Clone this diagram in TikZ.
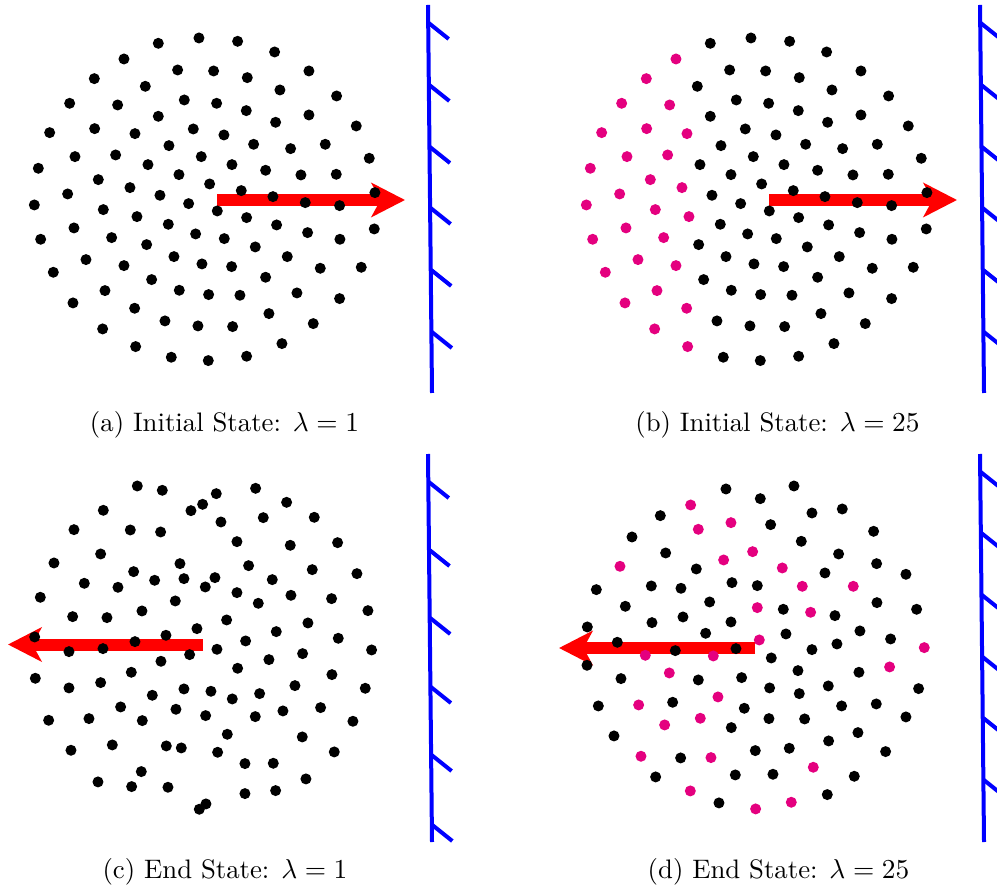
\documentclass[tikz,border=0pt]{standalone}
\usetikzlibrary{arrows.meta}
\definecolor{tracerpink}{HTML}{E4007F}
\tikzset{>=Stealth,
  every node/.style={font=\fontsize{10.7}{13}\selectfont},
  particle/.style={fill=black},
  tracer/.style={fill=tracerpink},
  push/.style={draw=red,line width=4.8pt,line cap=butt,
    -{Stealth[length=13.4pt,width=13.6pt,inset=3.6pt]}},
  wall/.style={draw=blue,line width=1.6pt},
  caption/.style={anchor=base,inner sep=0pt}}
% dot positions, 1/3 pixel units
\newcommand\initleft{372/177,283/236,209/310,353/315,149/398,284/386,405/401,
  225/470,347/465,115/505,295/539,390/563,203/582,103/615,310/629,411/650,
  222/684,122/718,335/713,258/779,372/797,160/817,315/872,219/909,404/925,
  308/987,407/1040}
\newcommand\initright{597/114,475/130,713/124,824/156,927/213,533/210,641/213,
  742/233,436/259,840/270,1010/288,553/300,650/310,739/332,475/349,927/345,
  827/367,1069/378,580/387,672/405,761/433,507/437,872/446,976/433,1108/475,
  444/494,604/470,696/494,797/511,903/525,1009/523,537/524,629/552,724/572,
  480/586,566/611,819/590,916/608,1019/617,1125/578,652/633,740/653,830/675,
  923/698,1020/718,1123/687,505/673,587/702,673/716,440/734,766/741,522/770,
  606/792,695/800,862/770,961/805,1084/802,455/839,797/832,538/871,626/884,
  720/886,891/879,1019/896,807/941,495/963,594/978,698/980,940/971,846/1031,
  514/1072,625/1082,740/1069}
\newcommand\finone{412/108,487/121,649/131,767/115,608/163,573/182,860/157,
  310/181,663/216,790/203,943/202,222/239,391/240,482/246,711/275,871/286,
  1013/278,302/312,540/341,746/347,937/359,1071/371,162/339,401/365,464/391,
  552/386,645/383,616/411,817/389,253/400,354/412,711/428,873/436,995/446,
  121/442,526/453,775/460,1104/482,218/500,321/503,426/483,680/510,924/519,
  591/536,829/545,104/561,498/556,405/575,737/573,1015/565,207/605,309/596,
  483/634,569/614,651/598,908/611,1115/600,807/629,713/655,394/667,996/674,
  106/685,207/714,302/698,457/736,552/717,633/724,697/747,779/731,885/707,
  1096/715,362/771,528/778,617/797,766/800,849/783,962/773,1059/814,146/811,
  267/806,427/812,682/853,907/861,213/901,337/885,499/888,544/894,653/907,
  1003/906,735/941,820/940,424/965,294/996,395/1010,504/1012,918/987,735/1031,
  827/1022,618/1062,598/1078}
\newcommand\finblack{528/117,732/108,631/146,331/197,786/189,877/177,246/261,
  662/224,971/244,754/274,347/309,866/312,439/357,980/341,825/369,1068/373,
  139/419,304/408,393/415,546/398,622/407,226/469,479/456,700/478,855/497,
  981/458,1100/478,112/531,306/518,399/501,543/516,467/550,708/552,930/543,
  1022/567,202/577,376/602,558/596,664/624,786/599,861/582,111/646,213/686,
  445/690,575/683,744/662,927/667,659/714,748/731,835/708,1106/716,145/768,
  368/757,583/775,657/806,764/807,875/768,979/762,1068/801,192/858,544/833,
  836/873,924/848,616/902,718/895,1007/905,392/924,317/981,556/975,669/973,
  913/979,507/1059,832/1034}
\newcommand\finpink{422/165,445/238,543/218,210/349,521/330,608/305,697/354,
  757/409,910/409,622/473,782/487,628/570,1123/593,286/616,490/618,1019/651,
  358/669,504/741,266/765,451/805,344/825,273/919,483/923,790/952,421/1023,
  617/1077,724/1057}
\newcommand\dotr{2.2pt}

\begin{document}
\begin{tikzpicture}[x=.4pt,y=-.4pt]
\useasboundingbox (0,0) rectangle (997,890);
\clip (0,0) rectangle (997,890);
% walls
\foreach \wx/\wy/\hlist in {0/0/{23,85,147,208,270,332},552/0/{23,85,147,208,270,332},
  0/449/{33,101,169,238,306,376},552/449/{23,84,146,208,269,331}}{
  \begin{scope}[shift={(\wx,\wy)}]
  \draw[wall] (428,5) coordinate (wtop) -- (432,393) coordinate (wbot);
  \foreach \h in \hlist {\draw[wall] ({428.5+4*(\h-5)/388},\h) -- ++(20,16);}
  \end{scope}}
% pushes
\coordinate (tailA) at (217,200);\coordinate (tipA) at (405,200);
\coordinate (tailB) at (769,200);\coordinate (tipB) at (957,200);
\coordinate (tailC) at (203,644.5);\coordinate (tipC) at (8,644.5);
\coordinate (tailD) at (755,648);\coordinate (tipD) at (559,648);
\draw[push] (tailA) -- (tipA);
\draw[push] (tailB) -- (tipB);
\draw[push] (tailC) -- (tipC);
\draw[push] (tailD) -- (tipD);
% (a) initial state, lambda=1
\begin{scope}[x=.1333pt,y=-.1333pt]
\foreach \px/\py in \initleft {\fill[particle] (\px,\py) circle[radius=\dotr];}
\foreach \px/\py in \initright {\fill[particle] (\px,\py) circle[radius=\dotr];}
\end{scope}
% (b) initial state, lambda=25
\begin{scope}[shift={(552,0)},x=.1333pt,y=-.1333pt]
\foreach \px/\py in \initleft {\fill[tracer] (\px,\py) circle[radius=\dotr];}
\foreach \px/\py in \initright {\fill[particle] (\px,\py) circle[radius=\dotr];}
\end{scope}
% (c) end state, lambda=1
\begin{scope}[shift={(0,450)},x=.1333pt,y=-.1333pt]
\foreach \px/\py in \finone {\fill[particle] (\px,\py) circle[radius=\dotr];}
\end{scope}
% (d) end state, lambda=25
\begin{scope}[shift={(550,450)},x=.1333pt,y=-.1333pt]
\foreach \px/\py in \finblack {\fill[particle] (\px,\py) circle[radius=\dotr];}
\foreach \px/\py in \finpink {\fill[tracer] (\px,\py) circle[radius=\dotr];}
\end{scope}
% captions
\node[caption] (capA) at (224.5,432) {(a) Initial State: $\lambda=1$};
\node[caption] (capB) at (777.5,432) {(b) Initial State: $\lambda=25$};
\node[caption] (capC) at (225,878) {(c) End State: $\lambda=1$};
\node[caption] (capD) at (778.5,878) {(d) End State: $\lambda=25$};
\end{tikzpicture}
\end{document}
